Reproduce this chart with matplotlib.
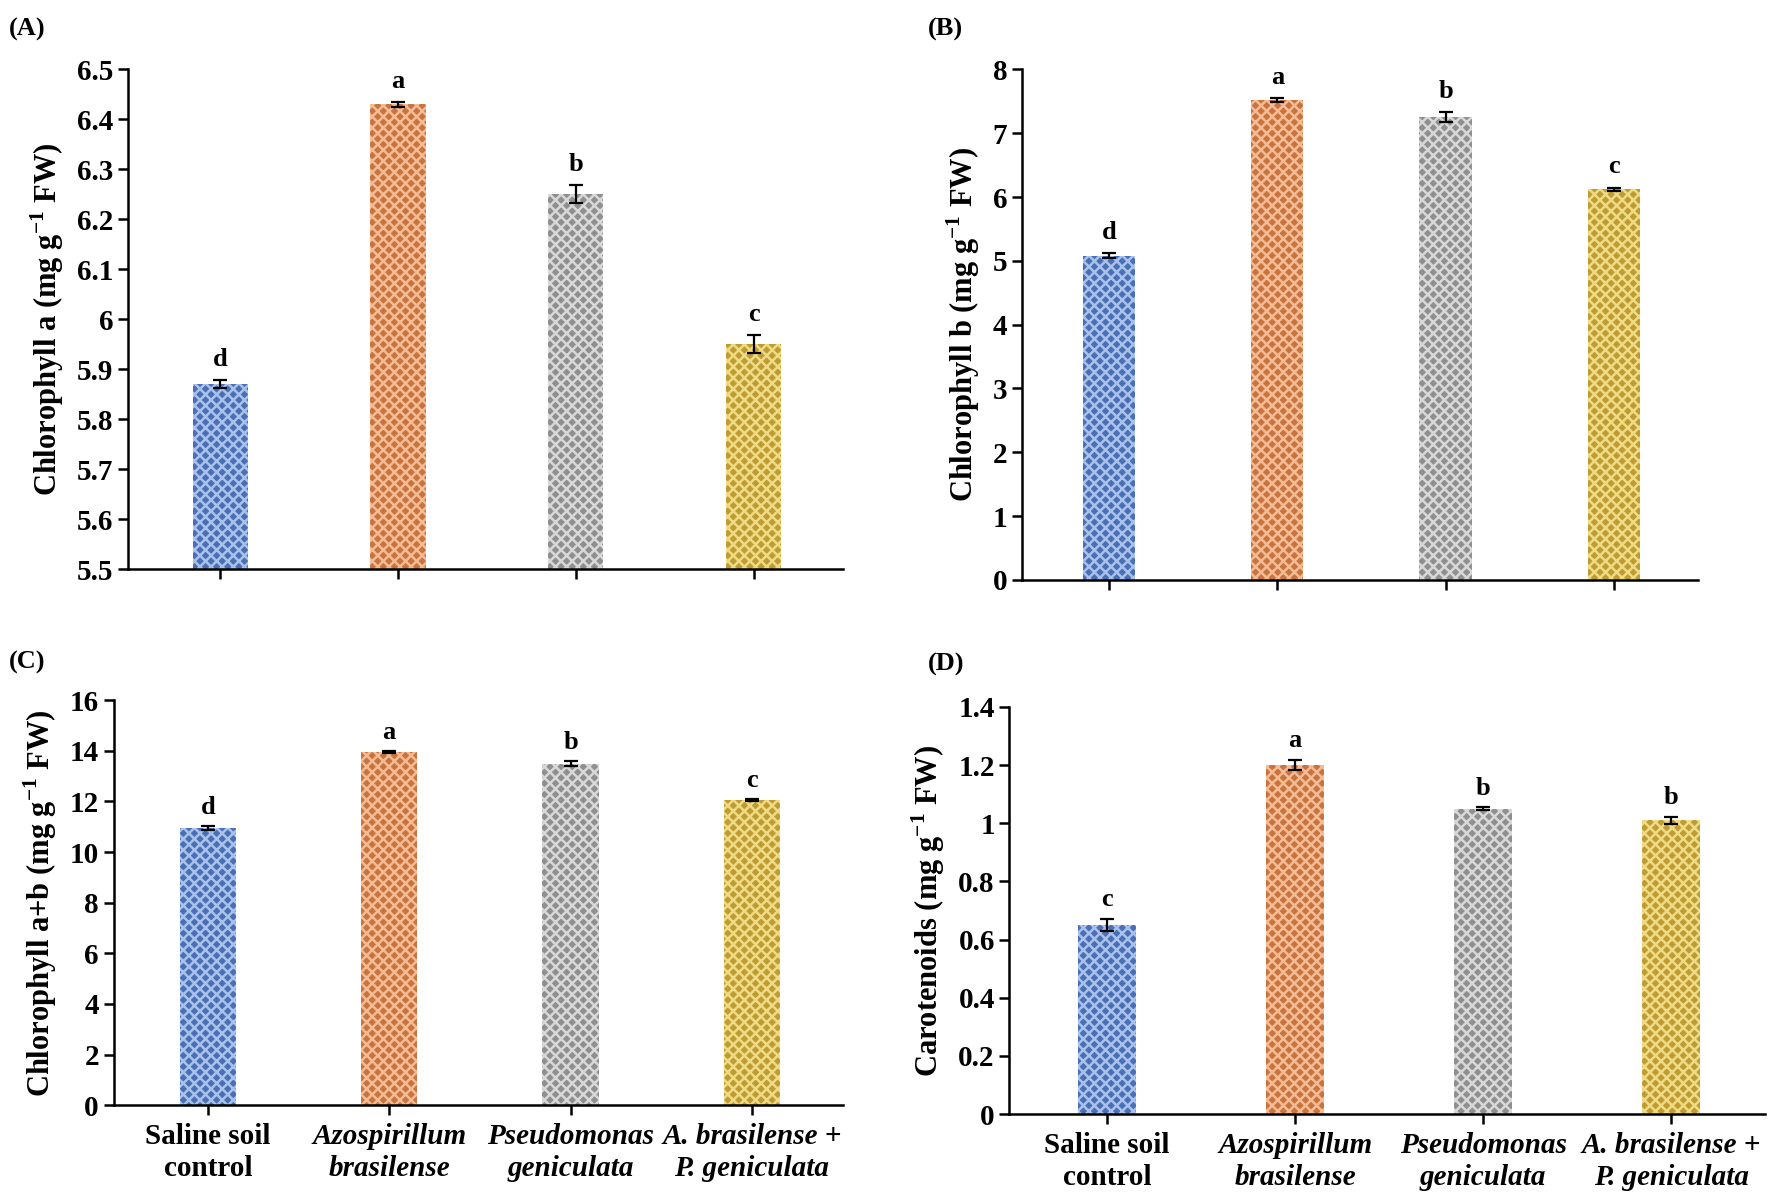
import numpy as np
import matplotlib
matplotlib.use("Agg")
import matplotlib.pyplot as plt

plt.rcParams['font.family'] = ['Liberation Serif', 'DejaVu Serif']
plt.rcParams['font.weight'] = 'bold'
plt.rcParams['hatch.linewidth'] = 1.8
plt.rcParams['mathtext.fontset'] = 'custom'
plt.rcParams['mathtext.rm'] = 'Liberation Serif:bold'
plt.rcParams['mathtext.bf'] = 'Liberation Serif:bold'

treatments = ["Saline soil\ncontrol", "Azospirillum\nbrasilense",
              "Pseudomonas\ngeniculata", "A. brasilense +\nP. geniculata"]
italic = [False, True, True, True]

chl_a = [5.87, 6.43, 6.25, 5.95]
chl_a_err = [0.008, 0.005, 0.018, 0.018]
chl_a_let = ["d", "a", "b", "c"]

chl_b = [5.08, 7.52, 7.25, 6.12]
chl_b_err = [0.04, 0.03, 0.08, 0.03]
chl_b_let = ["d", "a", "b", "c"]

chl_ab = [10.95, 13.95, 13.5, 12.05]
chl_ab_err = [0.08, 0.05, 0.1, 0.03]
chl_ab_let = ["d", "a", "b", "c"]

carot = [0.65, 1.20, 1.05, 1.01]
carot_err = [0.022, 0.018, 0.004, 0.013]
carot_let = ["c", "a", "b", "b"]

dark = ['#4a6fb4', '#c7743f', '#8f8f8f', '#bf9c33']
light = ['#a9c2ec', '#f5bb95', '#d8d8d8', '#eedb84']

unit = " (mg g$^{\\mathrm{-1}}$ FW)"

fig = plt.figure(figsize=(17.74, 11.98), dpi=100)

panels = [
    # rect, values, errs, letters, ylim, yticks, ylabel, ticklabels, tag, tagpos
    ([0.072, 0.525, 0.403, 0.417], chl_a, chl_a_err, chl_a_let, (5.5, 6.5),
     np.arange(5.5, 6.51, 0.1), "Chlorophyll a" + unit, False, "(A)", (0.005, 0.975)),
    ([0.576, 0.516, 0.381, 0.426], chl_b, chl_b_err, chl_b_let, (0, 8),
     np.arange(0, 9, 1), "Chlorophyll b" + unit, False, "(B)", (0.523, 0.975)),
    ([0.064, 0.0775, 0.411, 0.338], chl_ab, chl_ab_err, chl_ab_let, (0, 16),
     np.arange(0, 17, 2), "Chlorophyll a+b" + unit, True, "(C)", (0.005, 0.447)),
    ([0.569, 0.070, 0.426, 0.340], carot, carot_err, carot_let, (0, 1.4),
     np.arange(0, 1.41, 0.2), "Carotenoids" + unit, True, "(D)", (0.523, 0.445)),
]


def fmt(t):
    s = f"{t:.1f}"
    return s[:-2] if s.endswith(".0") and t not in (5.5,) and abs(t - round(t)) < 1e-9 else s


x = np.arange(len(treatments))
for rect, vals, errs, lets, ylim, yticks, ylabel, show_x, tag, tagpos in panels:
    ax = fig.add_axes(rect)
    bottom = ylim[0]
    heights = [v - bottom for v in vals]
    for i in range(len(x)):
        ax.bar(x[i], heights[i], bottom=bottom, width=0.31, color=dark[i],
               edgecolor=light[i], linewidth=0, hatch='xxx', zorder=2)
    ax.errorbar(x, vals, yerr=errs, fmt='none', ecolor='black', elinewidth=1.6,
                capsize=5, capthick=1.6, zorder=3)
    span = ylim[1] - ylim[0]
    for i in range(len(x)):
        ax.text(x[i], vals[i] + errs[i] + span * 0.018, lets[i], ha='center',
                va='bottom', fontsize=19, fontweight='bold')
    ax.set_xlim(-0.52, 3.5)
    ax.set_ylim(*ylim)
    ax.set_yticks(yticks)
    ax.set_yticklabels([fmt(t) for t in yticks])
    ax.set_xticks(x)
    if show_x:
        ax.set_xticklabels(treatments, fontsize=21, linespacing=1.25)
        for lab, it in zip(ax.get_xticklabels(), italic):
            lab.set_fontweight('bold')
            if it:
                lab.set_fontstyle('italic')
    else:
        ax.set_xticklabels([])
    ax.spines['top'].set_visible(False)
    ax.spines['right'].set_visible(False)
    ax.spines['left'].set_linewidth(1.8)
    ax.spines['bottom'].set_linewidth(1.8)
    ax.tick_params(axis='both', direction='out', width=1.8, length=7, labelsize=21)
    ax.tick_params(axis='x', pad=6)
    for lab in ax.get_yticklabels():
        lab.set_fontweight('bold')
    ax.set_ylabel(ylabel, fontsize=22, fontweight='bold', labelpad=8)
    fig.text(tagpos[0], tagpos[1], tag, fontsize=19, fontweight='bold', va='center')

fig.savefig("out.png", dpi=100)
